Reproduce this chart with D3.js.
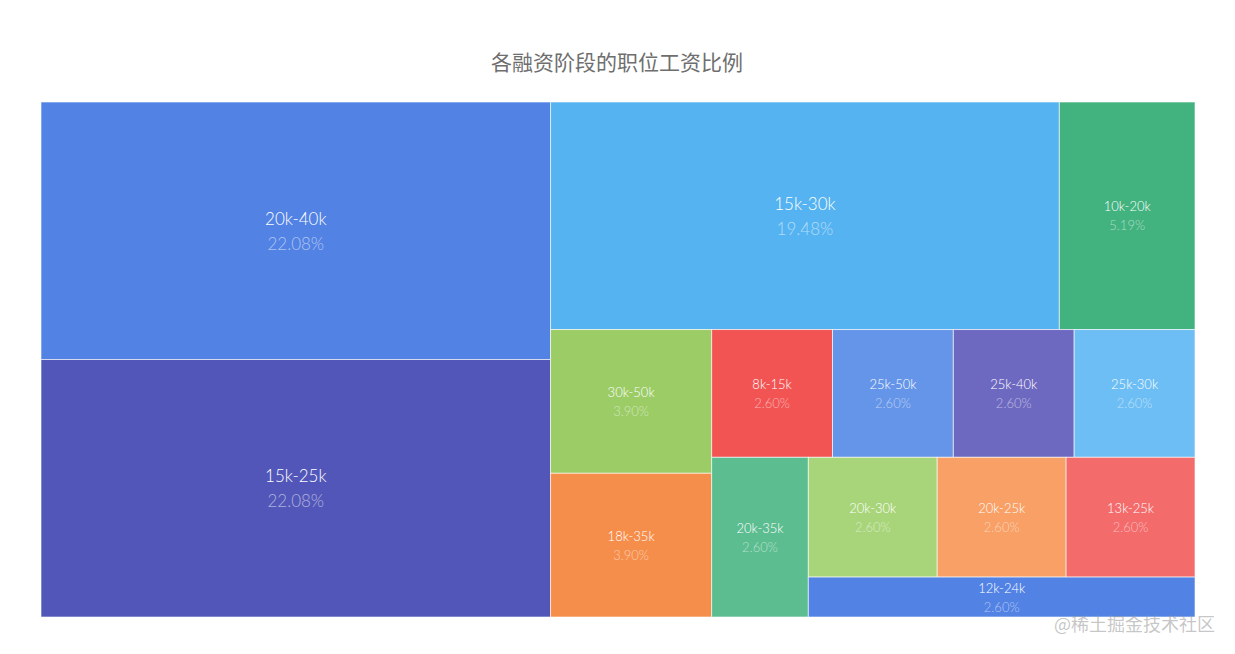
<!DOCTYPE html>
<html><head><meta charset="utf-8">
<script src="https://cdn.jsdelivr.net/npm/d3@7"></script>
<style>
html,body{margin:0;padding:0;background:#fff;}
svg{display:block;}
</style></head>
<body>
<svg id="chart" width="1235" height="654"></svg>
<script>
const title = "各融资阶段的职位工资比例";
const categories = ["20k-40k","15k-25k","15k-30k","10k-20k","30k-50k","18k-35k","8k-15k","25k-50k","25k-40k","25k-30k","20k-35k","20k-30k","20k-25k","13k-25k","12k-24k"];
const counts = [17,17,15,4,3,3,2,2,2,2,2,2,2,2,2];
const colors = ["#5182E4","#5156B8","#55B3F1","#42B27F","#9BCC66","#F68E4B","#F25454","#6595E8","#6E69C0","#6DBEF4","#5BBD90","#A8D57A","#F8A066","#F36B6B","#5182E4"];
const watermark = "@稀土掘金技术社区";

const area = {x0: 41, y0: 102, x1: 1195, y1: 617};
const svg = d3.select("#chart");
const font = "Lato, 'Noto Sans CJK SC', sans-serif";

svg.append("text").attr("x", 617).attr("y", 70).attr("text-anchor","middle")
  .attr("font-family","'Noto Sans CJK SC', sans-serif").attr("font-size",21)
  .attr("fill","#6e6e6e").text(title);

// Squarified tiling with alternating row direction (first row is a column on the left)
function tileSquarifyAlt(parent, x0, y0, x1, y1) {
  const nodes = parent.children;
  const rect = {x: x0, y: y0, w: x1 - x0, h: y1 - y0};
  const scale = rect.w * rect.h / parent.value;
  const areas = nodes.map(n => n.value * scale);
  let vertical = true;
  function worst(row, rowArea) {
    const fixed = vertical ? rect.h : rect.w;
    const other = rowArea / fixed;
    let m = 0;
    row.forEach(i => { const len = areas[i] / other; m = Math.max(m, len / other, other / len); });
    return m;
  }
  function place(row, rowArea, flush) {
    const fixed = vertical ? rect.h : rect.w;
    let other = rowArea / fixed;
    const avail = vertical ? rect.w : rect.h;
    if (flush || other > avail) other = avail;
    let last = vertical ? rect.y : rect.x;
    const end = vertical ? rect.y + rect.h : rect.x + rect.w;
    row.forEach((i, k) => {
      const n = nodes[i];
      const len = k === row.length - 1 ? end - last : areas[i] / other;
      if (vertical) { n.x0 = rect.x; n.x1 = rect.x + other; n.y0 = last; n.y1 = last + len; }
      else { n.y0 = rect.y; n.y1 = rect.y + other; n.x0 = last; n.x1 = last + len; }
      last += len;
    });
    if (vertical) { rect.x += other; rect.w -= other; } else { rect.y += other; rect.h -= other; }
    vertical = !vertical;
  }
  let row = [], rowArea = 0, best = Infinity;
  for (let i = 0; i < nodes.length;) {
    row.push(i); rowArea += areas[i];
    const s = worst(row, rowArea);
    if (s <= best) { best = s; i++; }
    else {
      row.pop(); rowArea -= areas[i];
      place(row, rowArea, false);
      row = []; rowArea = 0; best = Infinity;
    }
  }
  if (row.length) place(row, rowArea, true);
}

const total = d3.sum(counts);
const data = {name:"root", children: categories.map((c,i)=>({name:c, value:counts[i], color:colors[i], idx:i}))};
const root = d3.hierarchy(data).sum(d=>d.value||0).sort((a,b)=>b.value-a.value || a.data.idx-b.data.idx);
d3.treemap().tile(tileSquarifyAlt).size([area.x1-area.x0, area.y1-area.y0]).round(false)(root);

const g = svg.append("g").attr("transform",`translate(${area.x0},${area.y0})`);
const cells = g.selectAll("g.cell").data(root.leaves()).join("g").attr("class","cell");
cells.append("rect")
  .attr("x",d=>d.x0).attr("y",d=>d.y0)
  .attr("width",d=>d.x1-d.x0).attr("height",d=>d.y1-d.y0)
  .attr("fill",d=>d.data.color)
  .attr("stroke","rgba(255,255,255,0.6)").attr("stroke-width",1);

cells.each(function(d){
  const big = d.value >= 10;
  const fs = big ? 17 : 13;
  const gap = big ? 25 : 19;
  const cx = (d.x0+d.x1)/2, cy = (d.y0+d.y1)/2;
  const sel = d3.select(this);
  sel.append("text").attr("x",cx).attr("y",cy - gap/2).attr("text-anchor","middle")
    .attr("dominant-baseline","central").attr("font-family",font).attr("font-weight",300)
    .attr("font-size",fs).attr("fill","#ffffff").text(d.data.name);
  sel.append("text").attr("x",cx).attr("y",cy + gap/2).attr("text-anchor","middle")
    .attr("dominant-baseline","central").attr("font-family",font).attr("font-weight",300)
    .attr("font-size",fs).attr("fill","rgba(255,255,255,0.55)")
    .text((d.value/total*100).toFixed(2)+"%");
});

svg.append("text").attr("x",1215).attr("y",631).attr("text-anchor","end")
  .attr("font-family","'Noto Sans CJK SC', sans-serif").attr("font-size",18)
  .attr("fill","rgba(150,150,150,0.55)").text(watermark);
</script>
</body></html>
